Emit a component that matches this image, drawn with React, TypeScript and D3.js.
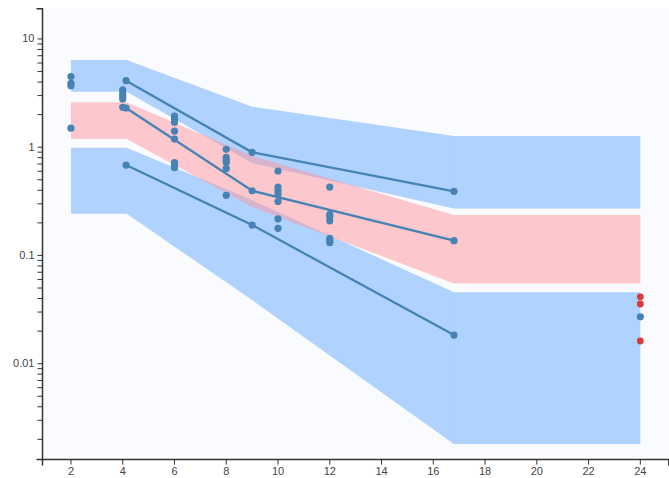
import React from "react";
import * as d3 from "d3";

const W = 669;
const H = 478;

// band vertices (time) and percentile band limits
const bandTimes = [2, 4.15, 9, 16.8, 24];
const upperHi = [6.4, 6.4, 2.37, 1.27, 1.27];
const upperLo = [3.26, 3.26, 0.714, 0.272, 0.272];
const medHi = [2.6, 2.6, 0.83, 0.236, 0.236];
const medLo = [1.19, 1.19, 0.28, 0.0552, 0.0552];
const lowerHi = [0.99, 0.99, 0.325, 0.0456, 0.0456];
const lowerLo = [0.243, 0.243, 0.0387, 0.00181, 0.00181];

// observed percentile lines
const lineTimes = [4.13, 9, 16.8];
const lineUpper = [4.12, 0.897, 0.391];
const lineMedian = [2.3, 0.396, 0.137];
const lineLower = [0.684, 0.191, 0.0184];

// observations
const obsTimes = [
  2, 2, 2, 2,
  4, 4, 4, 4, 4,
  6, 6, 6, 6, 6, 6, 6, 6,
  8, 8, 8, 8, 8, 8,
  10, 10, 10, 10, 10, 10, 10,
  12, 12, 12, 12, 12, 12, 12,
  24,
];
const obsValues = [
  4.49, 3.9, 3.7, 1.5,
  3.38, 3.15, 2.97, 2.79, 2.34,
  1.94, 1.81, 1.7, 1.41, 1.19, 0.72, 0.685, 0.647,
  0.957, 0.804, 0.757, 0.723, 0.636, 0.359,
  0.603, 0.429, 0.398, 0.369, 0.315, 0.218, 0.178,
  0.428, 0.24, 0.228, 0.209, 0.144, 0.137, 0.131,
  0.0271,
];
// censored observations (red)
const blqTimes = [24, 24, 24];
const blqValues = [0.0415, 0.0356, 0.0162];

const xTicks = [2, 4, 6, 8, 10, 12, 14, 16, 18, 20, 22, 24];
const yLabelTicks = [0.01, 0.1, 1, 10];

export default function App() {
  const x = d3.scaleLinear().domain([0.9, 25.1]).range([42.5, 668.8]);
  const y = d3.scaleLog().domain([0.0013, 19]).range([459.6, 8.8]);

  const bandPaths = (hi: number[], lo: number[]) => {
    const segs: string[] = [];
    for (let i = 0; i < bandTimes.length - 1; i++) {
      const idx = [i, i + 1];
      const a = d3
        .area<number>()
        .x((j) => x(bandTimes[j]))
        .y0((j) => y(lo[j]))
        .y1((j) => y(hi[j]));
      segs.push(a(idx) || "");
    }
    return segs;
  };

  const line = d3
    .line<number>()
    .x((_, i) => x(lineTimes[i]))
    .y((v) => y(v));

  // y ticks: all 1..9 * decade
  const yMinor: number[] = [];
  for (let e = -3; e <= 1; e++) {
    for (let m = 1; m <= 9; m++) {
      const v = m * Math.pow(10, e);
      if (v >= 0.0013 && v <= 19) yMinor.push(v);
    }
  }

  const x0 = x.range()[0];
  const x1 = x.range()[1];
  const yTop = y.range()[1];
  const yBot = y.range()[0];

  const fmt = (v: number) => (v >= 1 ? String(v) : String(v));

  return (
    <svg
      width={W}
      height={H}
      style={{ position: "absolute", left: 0, top: 0, background: "#ffffff" }}
      fontFamily="Liberation Sans, Arial, sans-serif"
    >
      <rect x={x0} y={yTop} width={x1 - x0} height={yBot - yTop} fill="#fafbfe" />

      {bandPaths(upperHi, upperLo).map((d, i) => (
        <path key={"u" + i} d={d} fill="rgb(100,170,255)" fillOpacity={0.5} />
      ))}
      {bandPaths(lowerHi, lowerLo).map((d, i) => (
        <path key={"l" + i} d={d} fill="rgb(100,170,255)" fillOpacity={0.5} />
      ))}
      {bandPaths(medHi, medLo).map((d, i) => (
        <path key={"m" + i} d={d} fill="rgb(255,150,155)" fillOpacity={0.5} />
      ))}

      {[lineUpper, lineMedian, lineLower].map((ln, k) => (
        <path key={"ln" + k} d={line(ln) || ""} fill="none" stroke="#4682b4" strokeWidth={2.3} />
      ))}
      {[lineUpper, lineMedian, lineLower].map((ln, k) =>
        ln.map((v, i) => (
          <circle key={"lp" + k + "-" + i} cx={x(lineTimes[i])} cy={y(v)} r={3.6} fill="#4682b4" />
        ))
      )}

      {obsValues.map((v, i) => (
        <circle key={"o" + i} cx={x(obsTimes[i])} cy={y(v)} r={3.6} fill="#4682b4" />
      ))}
      {blqValues.map((v, i) => (
        <circle key={"b" + i} cx={x(blqTimes[i])} cy={y(v)} r={3.4} fill="#d63a3a" />
      ))}

      {/* y axis */}
      <g>
        <path
          d={`M${x0 - 6},${yTop}H${x0}V${yBot}H${x0 - 6}`}
          fill="none"
          stroke="#333"
          strokeWidth={1.5}
        />
        {yMinor.map((v, i) => (
          <line key={"yt" + i} x1={x0 - 5} x2={x0} y1={y(v)} y2={y(v)} stroke="#333" strokeWidth={1} />
        ))}
        {yLabelTicks.map((v) => (
          <text
            key={"yl" + v}
            x={x0 - 8}
            y={y(v)}
            dy="0.32em"
            textAnchor="end"
            fontSize={11}
            fill="#444"
          >
            {fmt(v)}
          </text>
        ))}
      </g>

      {/* x axis */}
      <g>
        <path
          d={`M${x0},${yBot + 6}V${yBot}H${x1}V${yBot + 6}`}
          fill="none"
          stroke="#333"
          strokeWidth={1.5}
        />
        {xTicks.map((t) => (
          <g key={"xt" + t}>
            <line x1={x(t)} x2={x(t)} y1={yBot} y2={yBot + 5} stroke="#333" strokeWidth={1} />
            <text x={x(t)} y={yBot + 8} dy="0.71em" textAnchor="middle" fontSize={11} fill="#444">
              {t}
            </text>
          </g>
        ))}
      </g>
    </svg>
  );
}
